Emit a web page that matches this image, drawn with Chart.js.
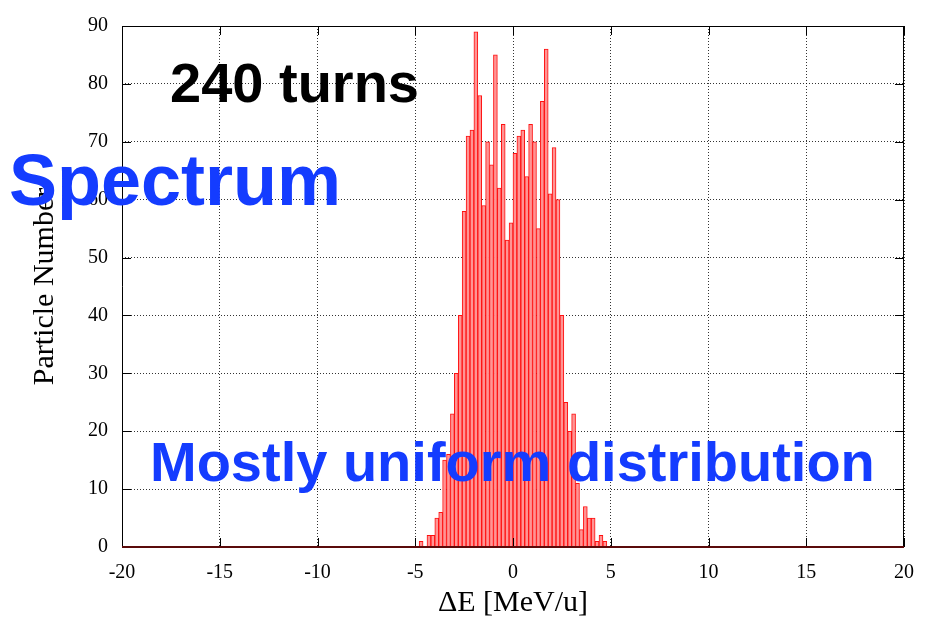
<!DOCTYPE html>
<html>
<head>
<meta charset="utf-8">
<script src="https://cdn.jsdelivr.net/npm/chart.js@4.4.1/dist/chart.umd.min.js"></script>
<style>
  html, body { margin: 0; padding: 0; background: #fff; }
</style>
</head>
<body>
<canvas id="spectrumChart" width="933" height="629"></canvas>
<script>
// bin centres of the energy histogram (0.2 MeV/u wide bins)
const energyBins = [
  -4.7, -4.5, -4.3, -4.1, -3.9, -3.7, -3.5, -3.3, -3.1, -2.9, -2.7, -2.5,
  -2.3, -2.1, -1.9, -1.7, -1.5, -1.3, -1.1, -0.9, -0.7, -0.5, -0.3, -0.1,
  0.1, 0.3, 0.5, 0.7, 0.9, 1.1, 1.3, 1.5, 1.7, 1.9, 2.1, 2.3,
  2.5, 2.7, 2.9, 3.1, 3.3, 3.5, 3.7, 3.9, 4.1, 4.3, 4.5, 4.7
];
const particleCounts = [
  1, 0, 2, 2, 5, 6, 15, 16, 23, 30, 40, 58,
  71, 72, 89, 78, 59, 70, 66, 85, 62, 73, 53, 56,
  68, 71, 72, 64, 73, 70, 55, 77, 86, 61, 69, 60,
  40, 25, 20, 23, 11, 3, 7, 5, 5, 1, 2, 1
];
const xTicks = [-20, -15, -10, -5, 0, 5, 10, 15, 20];
const yTicks = [0, 10, 20, 30, 40, 50, 60, 70, 80, 90];

const serif = '"Liberation Serif", "Times New Roman", serif';
const sans = '"Liberation Sans", Arial, Helvetica, sans-serif';

// turn counter sits underneath the grid
const turnsLabel = {
  id: 'turnsLabel',
  beforeDraw(chart) {
    const ctx = chart.ctx;
    ctx.save();
    ctx.font = 'bold 56px ' + sans;
    ctx.fillStyle = '#000';
    ctx.textBaseline = 'alphabetic';
    ctx.fillText('240 turns', 170, 102);
    ctx.restore();
  }
};

// gnuplot-like box with inward ticks on all four sides
const frameBox = {
  id: 'frameBox',
  afterDatasetsDraw(chart) {
    const { ctx, chartArea: a, scales: { x, y } } = chart;
    const len = 9;
    ctx.save();
    ctx.strokeStyle = '#000';
    ctx.lineWidth = 1;
    ctx.beginPath();
    xTicks.forEach(v => {
      const px = Math.round(x.getPixelForValue(v)) + 0.5;
      ctx.moveTo(px, a.bottom); ctx.lineTo(px, a.bottom - len);
      ctx.moveTo(px, a.top); ctx.lineTo(px, a.top + len);
    });
    yTicks.forEach(v => {
      const py = Math.round(y.getPixelForValue(v)) + 0.5;
      ctx.moveTo(a.left, py); ctx.lineTo(a.left + len, py);
      ctx.moveTo(a.right, py); ctx.lineTo(a.right - len, py);
    });
    ctx.stroke();

    ctx.beginPath();
    ctx.moveTo(a.left + 0.5, a.bottom);
    ctx.lineTo(a.left + 0.5, a.top + 0.5);
    ctx.lineTo(a.right - 0.5, a.top + 0.5);
    ctx.lineTo(a.right - 0.5, a.bottom);
    ctx.stroke();

    ctx.strokeStyle = '#5a0a0a';
    ctx.lineWidth = 2;
    ctx.beginPath();
    ctx.moveTo(a.left, a.bottom);
    ctx.lineTo(a.right, a.bottom);
    ctx.stroke();
    ctx.restore();
  }
};

// blue annotations on top of everything
const notes = {
  id: 'notes',
  afterDraw(chart) {
    const ctx = chart.ctx;
    ctx.save();
    ctx.fillStyle = '#143cff';
    ctx.textBaseline = 'alphabetic';
    ctx.font = 'bold 72px ' + sans;
    ctx.fillText('Spectrum', 9, 205);
    ctx.font = 'bold 56px ' + sans;
    ctx.fillText('Mostly uniform distribution', 150, 481);
    ctx.restore();
  }
};

const ctxSpectrum = document.getElementById('spectrumChart');

new Chart(ctxSpectrum, {
  type: 'bar',
  data: {
    datasets: [{
      data: energyBins.map((e, i) => ({ x: e, y: particleCounts[i] })),
      backgroundColor: '#ff9494',
      borderColor: '#ff1010',
      borderWidth: 1,
      barPercentage: 1,
      categoryPercentage: 1
    }]
  },
  options: {
    responsive: false,
    animation: false,
    devicePixelRatio: 1,
    layout: { padding: { left: 0, right: 29, top: 25, bottom: 0 } },
    plugins: {
      legend: { display: false },
      tooltip: { enabled: false }
    },
    scales: {
      x: {
        type: 'linear',
        min: -20,
        max: 20,
        offset: false,
        afterBuildTicks: s => { s.ticks = xTicks.map(v => ({ value: v })); },
        afterFit: s => { s.height = 82; },
        grid: { offset: false, color: 'rgba(0,0,0,0.8)', lineWidth: 1, drawTicks: false },
        border: { display: false, dash: [1, 2] },
        ticks: { color: '#000', padding: 14, font: { family: serif, size: 20 } },
        title: {
          display: true,
          text: 'ΔE [MeV/u]',
          color: '#000',
          font: { family: serif, size: 30 },
          padding: { top: 0, bottom: 8 }
        }
      },
      y: {
        min: 0,
        max: 90,
        afterBuildTicks: s => { s.ticks = yTicks.map(v => ({ value: v })); },
        afterFit: s => { s.width = 122; },
        grid: { color: 'rgba(0,0,0,0.8)', lineWidth: 1, drawTicks: false },
        border: { display: false, dash: [1, 2] },
        ticks: { color: '#000', padding: 14, font: { family: serif, size: 20 } },
        title: {
          display: true,
          text: 'Particle Number',
          color: '#000',
          font: { family: serif, size: 30 },
          padding: { top: 27, bottom: 0 }
        }
      }
    }
  },
  plugins: [turnsLabel, frameBox, notes]
});
</script>
</body>
</html>
